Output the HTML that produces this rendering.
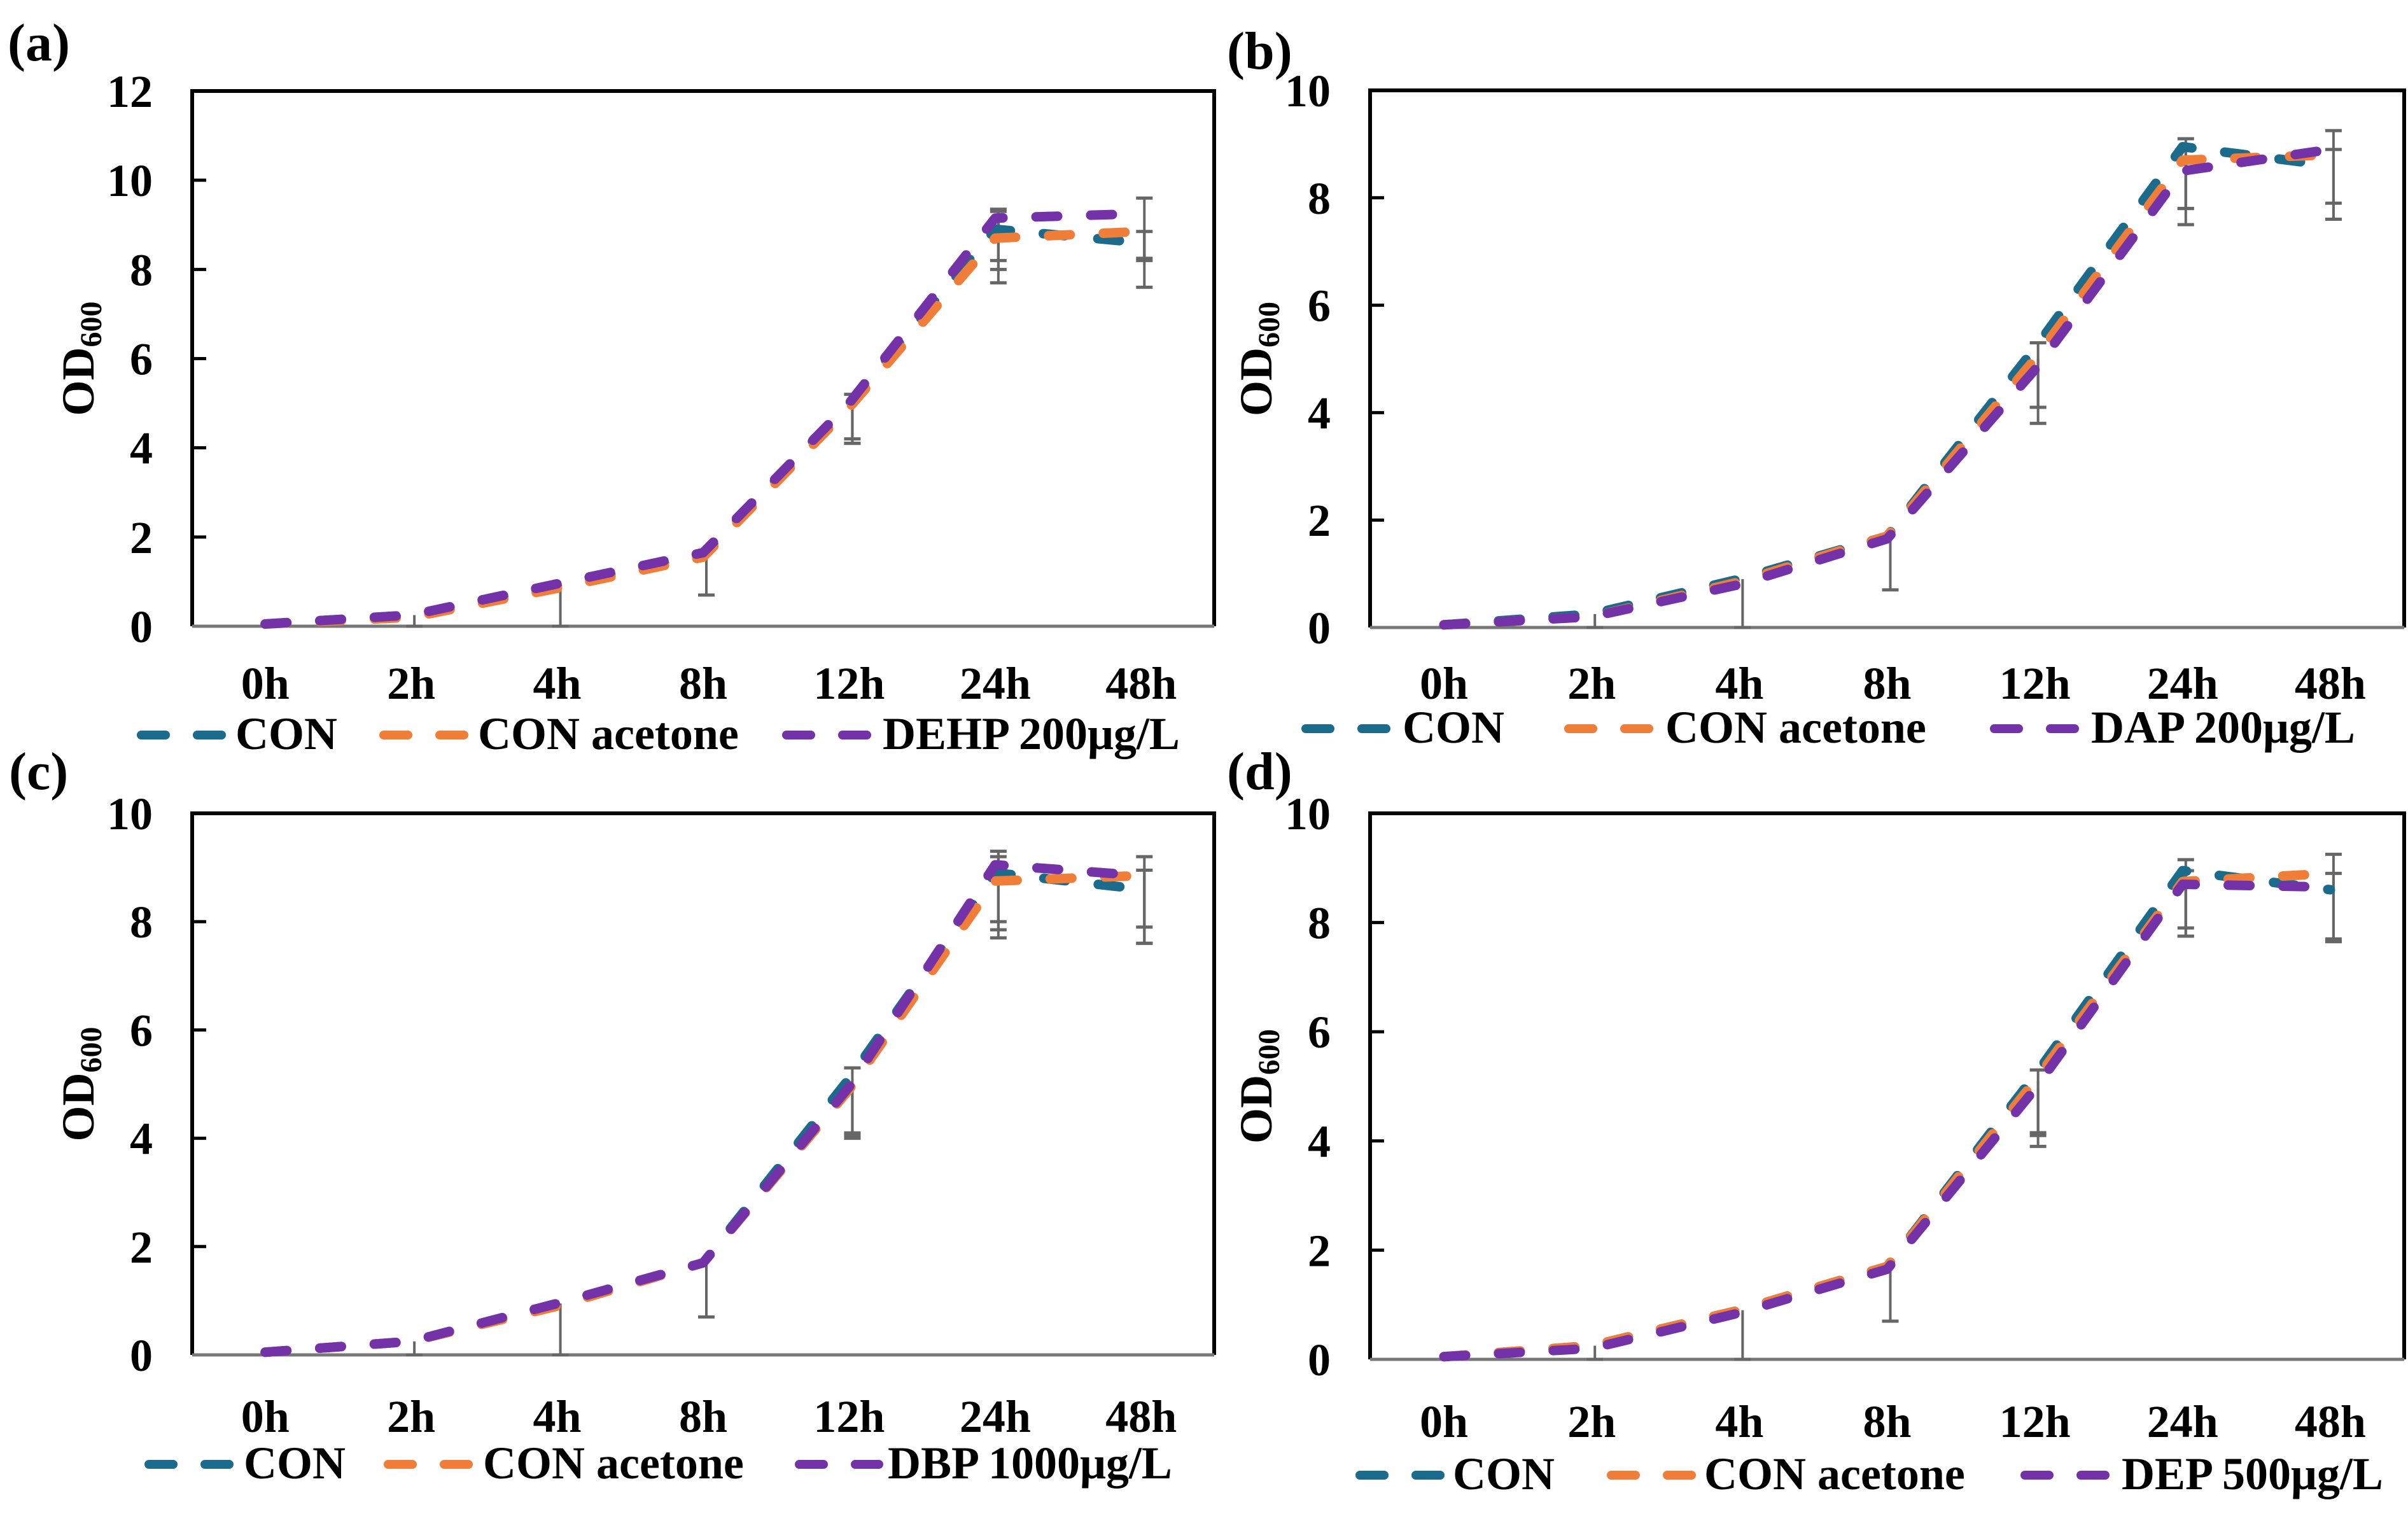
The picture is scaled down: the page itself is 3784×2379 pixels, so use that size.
<!DOCTYPE html>
<html><head><meta charset="utf-8"><style>
html,body{margin:0;padding:0;background:#fff}
svg{display:block}
text{font-family:"Liberation Serif",serif;font-weight:bold;fill:#000}
</style></head><body>
<svg id="fig" width="3784" height="2379" viewBox="0 0 3784 2379" xmlns="http://www.w3.org/2000/svg"></svg>
<script>
const categories = ["0h","2h","4h","8h","12h","24h","48h"];
const seriesNames = ["CON","CON acetone"];
// Panel a
const aCon = [0.05,0.25,0.9,1.6,5.0,8.9,8.6];
const aAce = [0.05,0.2,0.85,1.55,4.9,8.7,8.85];
const aTrt = [0.05,0.25,0.95,1.65,5.0,9.15,9.25];
const aConLo = [0,0.25,0.9,0.9,0.8,1.2,1.0];
const aConHi = [0,0,0,0,0.2,0.4,0.25];
const aAceLo = [0,0,0,0,0.8,0.7,0.65];
const aTrtLo = [0,0,0,0,0.9,0.95,1.0];
const aTrtHi = [0,0,0,0,0,0.2,0.35];
// Panel b
const bCon = [0.05,0.25,0.9,1.7,5.2,8.95,8.6];
const bAce = [0.05,0.2,0.85,1.7,5.0,8.7,8.8];
const bTrt = [0.05,0.2,0.8,1.65,4.8,8.5,8.9];
const bConLo = [0,0.25,0.9,1.0,1.1,1.45,1.0];
const bConHi = [0,0,0,0,0.1,0.15,0.3];
const bAceLo = [0,0,0,0,0.9,0.9,0.9];
const bTrtLo = [0,0,0,0,1.0,0.7,1.3];
const bTrtHi = [0,0,0,0,0,0.4,0.35];
// Panel c
const cCon = [0.05,0.25,0.95,1.7,5.1,8.9,8.6];
const cAce = [0.05,0.25,0.9,1.7,4.9,8.75,8.85];
const cTrt = [0.05,0.25,0.95,1.7,4.95,9.05,8.85];
const cConLo = [0,0.25,0.95,1.0,1.1,1.2,1.0];
const cConHi = [0,0,0,0,0.2,0.3,0.35];
const cAceLo = [0,0,0,0,0.8,0.9,0.95];
const cTrtLo = [0,0,0,0,0.9,1.05,1.25];
const cTrtHi = [0,0,0,0,0,0.25,0.35];
// Panel d
const dCon = [0.05,0.25,0.9,1.7,5.2,8.95,8.6];
const dAce = [0.05,0.25,0.9,1.7,5.1,8.75,8.9];
const dTrt = [0.05,0.2,0.85,1.65,4.95,8.7,8.65];
const dConLo = [0,0.25,0.9,1.0,1.3,1.2,0.95];
const dConHi = [0,0,0,0,0.1,0.2,0.3];
const dAceLo = [0,0,0,0,1.0,1.0,1.25];
const dTrtLo = [0,0,0,0,0.8,0.8,0.95];
const dTrtHi = [0,0,0,0,0,0.25,0.6];
const yTicksA = [0,2,4,6,8,10,12];
const yTicksB = [0,2,4,6,8,10];

const NS="http://www.w3.org/2000/svg";
const svg=document.getElementById('fig');
const colors=["#1b6b8c","#f07e38","#7332a8"];
function el(tag,attrs,parent){const e=document.createElementNS(NS,tag);for(const k in attrs)e.setAttribute(k,attrs[k]);(parent||svg).appendChild(e);return e;}

const panels=[
 {id:'a',label:'(a)',lx:12,ly:95,L:302,R:1908,T:143,B:984,ymax:12,ticks:yTicksA,titleX:125,xl:1098,lg:1177,
  data:[aCon,aAce,aTrt],lo:[aConLo,aAceLo,aTrtLo],hi:[aConHi,null,aTrtHi],trt:"DEHP 200μg/L",
  leg:[[216,370],[597,751],[1230,1387]]},
 {id:'b',label:'(b)',lx:1928,ly:108,L:2153,R:3778,T:142,B:986,ymax:10,ticks:yTicksB,titleX:1976,xl:1098,lg:1167,
  data:[bCon,bAce,bTrt],lo:[bConLo,bAceLo,bTrtLo],hi:[bConHi,null,bTrtHi],trt:"DAP 200μg/L",
  leg:[[2046,2204],[2459,2617],[3128,3286]]},
 {id:'c',label:'(c)',lx:14,ly:1240,L:302,R:1908,T:1278,B:2129,ymax:10,ticks:yTicksB,titleX:125,xl:2250,lg:2323,
  data:[cCon,cAce,cTrt],lo:[cConLo,cAceLo,cTrtLo],hi:[cConHi,null,cTrtHi],trt:"DBP 1000μg/L",
  leg:[[228,383],[604,759],[1250,1395]]},
 {id:'d',label:'(d)',lx:1928,ly:1240,L:2153,R:3778,T:1278,B:2136,ymax:10,ticks:yTicksB,titleX:1976,xl:2258,lg:2340,
  data:[dCon,dAce,dTrt],lo:[dConLo,dAceLo,dTrtLo],hi:[dConHi,null,dTrtHi],trt:"DEP 500μg/L",
  leg:[[2131,2283],[2526,2678],[3176,3334]]}
];

panels.forEach(p=>{
  const g=el('g',{});
  
  
  const xs=i=>p.L+(i+0.5)*(p.R-p.L)/categories.length;
  const ys=v=>p.B-v*(p.B-p.T)/p.ymax;
  const lab=el('text',{x:p.lx,y:p.ly,'font-size':84},g);lab.textContent=p.label;
  
  
  const fr=el('path',{d:`M${p.L},${p.B} L${p.L},${p.T} L${p.R},${p.T} L${p.R},${p.B}`,fill:'none',stroke:'#000','stroke-width':6},g);
  
  
  const xa=el('line',{x1:p.L,x2:p.R,y1:p.B,y2:p.B,stroke:'#777','stroke-width':5},g);
  
  
  p.ticks.forEach(t=>{
    if(t>0&&t<p.ymax){el('line',{x1:p.L,x2:p.L+22,y1:ys(t),y2:ys(t),stroke:'#000','stroke-width':5},g);}
    const tl=el('text',{x:p.L-62,y:ys(t)+25,'font-size':72,'text-anchor':'end'},g);tl.textContent=t;
    
    
  });
  categories.forEach((c,i)=>{
    const tl=el('text',{x:xs(i),y:p.xl,'font-size':72,'text-anchor':'middle'},g);tl.textContent=c;
    
    
  });
  const yt=el('text',{transform:`translate(${p.titleX+22},${(p.T+p.B)/2}) rotate(-90)`,'font-size':72,'text-anchor':'middle'},g);
  yt.innerHTML='OD<tspan font-size="48" dy="12">600</tspan>';
  
  
  p.data.forEach((s,k)=>{
    s.forEach((v,i)=>{
      const lo=p.lo[k]?p.lo[k][i]:0, hi=p.hi[k]?p.hi[k][i]:0;
      if(lo<=0&&hi<=0)return;
      const x=xs(i)+5;
      const y1=ys(v-lo), y2=ys(v+hi);
      const eb=el('line',{x1:x,x2:x,y1:y1,y2:y2,stroke:'#666','stroke-width':4},g);
      
      
      if(lo>0)el('line',{x1:x-13,x2:x+13,y1:y1,y2:y1,stroke:'#666','stroke-width':5},g);
      if(hi>0)el('line',{x1:x-13,x2:x+13,y1:y2,y2:y2,stroke:'#666','stroke-width':5},g);
    });
  });
  p.data.forEach((s,k)=>{
    const pts=s.map((v,i)=>xs(i)+','+ys(v)).join(' ');
    const ln=el('polyline',{points:pts,fill:'none',stroke:colors[k],'stroke-width':15,'stroke-dasharray':'34 52','stroke-linecap':'round','stroke-linejoin':'round'},g);
    
    
  });
  const names=[seriesNames[0],seriesNames[1],p.trt];
  p.leg.forEach((lp,k)=>{
    const lg=el('g',{},g);
    
    
    el('line',{x1:lp[0]+6,x2:lp[1]-14,y1:p.lg-22,y2:p.lg-22,stroke:colors[k],'stroke-width':14,'stroke-dasharray':'38 50','stroke-linecap':'round'},lg);
    const t=el('text',{x:lp[1],y:p.lg,'font-size':72},lg);t.textContent=names[k];
  });
});
</script>
</body></html>
